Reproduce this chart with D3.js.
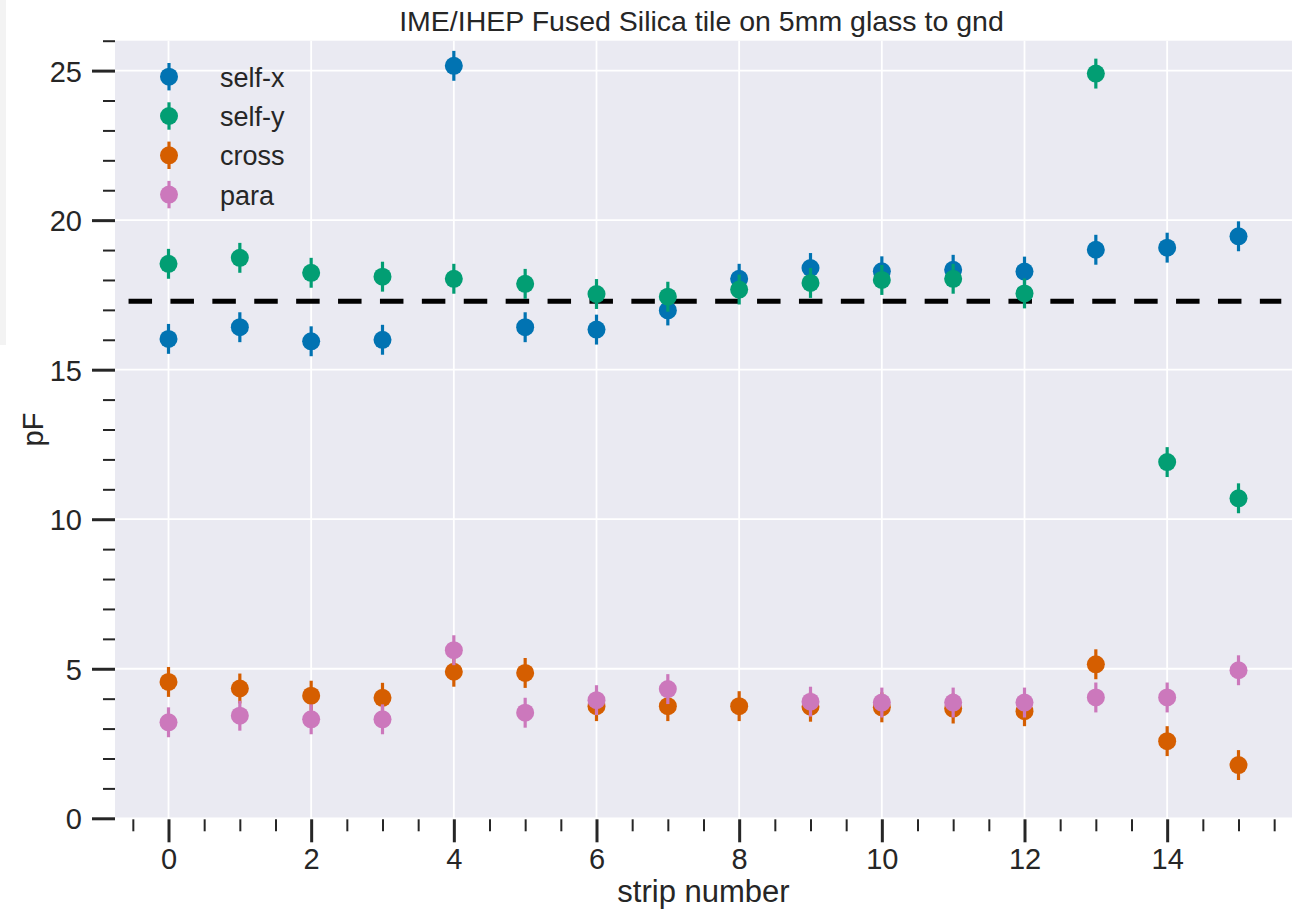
<!DOCTYPE html>
<html>
<head>
<meta charset="utf-8">
<script src="https://cdn.jsdelivr.net/npm/d3@7"></script>
<style>
  html, body { margin: 0; padding: 0; background: #ffffff; }
  svg { display: block; font-family: "Liberation Sans", Arial, Helvetica, sans-serif; }
</style>
</head>
<body>
<svg id="chart" width="1299" height="910"></svg>
<script>
// Capacitance per strip (pF), one array per measurement
const strips = [0, 1, 2, 3, 4, 5, 6, 7, 8, 9, 10, 11, 12, 13, 14, 15];
const selfX = [16.03, 16.42, 15.95, 16.00, 25.16, 16.42, 16.34, 16.98, 18.04, 18.40, 18.29, 18.34, 18.28, 19.01, 19.08, 19.46];
const selfY = [18.54, 18.74, 18.24, 18.11, 18.04, 17.87, 17.53, 17.44, 17.68, 17.90, 18.00, 18.04, 17.55, 24.90, 11.91, 10.70];
const cross = [4.56, 4.34, 4.10, 4.03, 4.90, 4.86, 3.75, 3.75, 3.75, 3.73, 3.71, 3.67, 3.58, 5.15, 2.58, 1.78];
const para  = [3.21, 3.43, 3.31, 3.31, 5.62, 3.53, 3.95, 4.32, null, 3.90, 3.87, 3.87, 3.87, 4.04, 4.04, 4.95];
const errorPF = 0.5;

const seriesNames = ["self-x", "self-y", "cross", "para"];
const seriesColors = ["#0173b2", "#029e73", "#d55e00", "#cc78bc"];

// Reference level drawn as a dashed horizontal line
const refLevel = 17.29;
const refSpan = [-0.56, 15.6];

const xMajorTicks = [0, 2, 4, 6, 8, 10, 12, 14];
const yMajorTicks = [0, 5, 10, 15, 20, 25];

const titleText = "IME/IHEP Fused Silica tile on 5mm glass to gnd";
const xLabel = "strip number";
const yLabel = "pF";

const svg = d3.select("#chart");
const plot = { left: 115, right: 1292, top: 40.7, bottom: 818.3 };

const x = d3.scaleLinear().domain([-0.75, 15.75]).range([plot.left, plot.right]);
const y = d3.scaleLinear().domain([0, 26]).range([plot.bottom, plot.top]);

// faint strip along the left page edge
svg.append("rect").attr("x", 0).attr("y", 0).attr("width", 6).attr("height", 345)
  .attr("fill", "#f3f3f3");

// axes background
svg.append("rect")
  .attr("x", plot.left).attr("y", plot.top)
  .attr("width", plot.right - plot.left).attr("height", plot.bottom - plot.top)
  .attr("fill", "#eaeaf2");

// grid
const grid = svg.append("g").attr("stroke", "#ffffff").attr("stroke-width", 1.8);
grid.selectAll("line.gx").data(xMajorTicks).join("line")
  .attr("x1", d => x(d)).attr("x2", d => x(d))
  .attr("y1", plot.top).attr("y2", plot.bottom);
grid.selectAll("line.gy").data(yMajorTicks).join("line")
  .attr("x1", plot.left).attr("x2", plot.right)
  .attr("y1", d => y(d)).attr("y2", d => y(d));

// x axis: majors every 2, minors every 0.5
const xMinor = d3.range(-0.5, 15.51, 0.5).filter(v => !xMajorTicks.includes(v));
const xMajorAxis = d3.axisBottom(x).tickValues(xMajorTicks).tickSize(23).tickPadding(7).tickFormat(d3.format("d"));
const xMinorAxis = d3.axisBottom(x).tickValues(xMinor).tickSize(12).tickFormat("");
const gxMinor = svg.append("g").attr("transform", `translate(0,${plot.bottom + 1})`).call(xMinorAxis);
const gxMajor = svg.append("g").attr("transform", `translate(0,${plot.bottom + 1})`).call(xMajorAxis);

// y axis: majors every 5, minors every 1
const yMinor = d3.range(0, 26.01, 1).filter(v => !yMajorTicks.includes(v));
const yMajorAxis = d3.axisLeft(y).tickValues(yMajorTicks).tickSize(23).tickPadding(10).tickFormat(d3.format("d"));
const yMinorAxis = d3.axisLeft(y).tickValues(yMinor).tickSize(12).tickFormat("");
const gyMinor = svg.append("g").attr("transform", `translate(${plot.left},0)`).call(yMinorAxis);
const gyMajor = svg.append("g").attr("transform", `translate(${plot.left},0)`).call(yMajorAxis);

[gxMinor, gxMajor, gyMinor, gyMajor].forEach(g => {
  g.select(".domain").remove();
  g.selectAll("text").attr("fill", "#262626").attr("font-size", 29)
    .attr("font-family", "'Liberation Sans', Arial, sans-serif");
});
gxMajor.selectAll("text").attr("dy", "0.68em");
gxMajor.selectAll(".tick line").attr("stroke", "#262626").attr("stroke-width", 3);
gxMinor.selectAll(".tick line").attr("stroke", "#262626").attr("stroke-width", 2);
gyMajor.selectAll(".tick line").attr("stroke", "#262626").attr("stroke-width", 3);
gyMinor.selectAll(".tick line").attr("stroke", "#262626").attr("stroke-width", 2);
gyMajor.selectAll("text").attr("dy", "0.36em");

// dashed reference line
svg.append("line")
  .attr("x1", x(refSpan[0])).attr("x2", x(refSpan[1]))
  .attr("y1", y(refLevel)).attr("y2", y(refLevel))
  .attr("stroke", "#000000").attr("stroke-width", 5)
  .attr("stroke-dasharray", "23.5,18.4");

// error-bar series
const series = [selfX, selfY, cross, para];
const markerR = 9;
series.forEach((vals, i) => {
  const pts = strips.map((s, j) => ({ s, v: vals[j] })).filter(d => d.v !== null);
  const g = svg.append("g").attr("fill", seriesColors[i]).attr("stroke", seriesColors[i]);
  g.selectAll("line").data(pts).join("line")
    .attr("x1", d => x(d.s)).attr("x2", d => x(d.s))
    .attr("y1", d => y(d.v - errorPF)).attr("y2", d => y(d.v + errorPF))
    .attr("stroke-width", 3.2);
  g.selectAll("circle").data(pts).join("circle")
    .attr("cx", d => x(d.s)).attr("cy", d => y(d.v))
    .attr("r", markerR).attr("stroke", "none");
});

// legend
const legend = svg.append("g");
seriesNames.forEach((name, i) => {
  const cy = 76.7 + i * 39.3;
  const cx = 169;
  legend.append("line").attr("x1", cx).attr("x2", cx)
    .attr("y1", cy - 13.7).attr("y2", cy + 13.7)
    .attr("stroke", seriesColors[i]).attr("stroke-width", 3.2);
  legend.append("circle").attr("cx", cx).attr("cy", cy).attr("r", markerR)
    .attr("fill", seriesColors[i]);
  legend.append("text").attr("x", 220).attr("y", cy + 10)
    .attr("font-size", 27).attr("fill", "#262626").text(name);
});

// title and axis labels
svg.append("text").attr("x", (plot.left + plot.right) / 2 - 2).attr("y", 30.5)
  .attr("text-anchor", "middle").attr("font-size", 28.5).attr("fill", "#262626")
  .text(titleText);
svg.append("text").attr("x", (plot.left + plot.right) / 2).attr("y", 902)
  .attr("text-anchor", "middle").attr("font-size", 31).attr("fill", "#262626")
  .text(xLabel);
svg.append("text")
  .attr("transform", `translate(43,${(plot.top + plot.bottom) / 2}) rotate(-90)`)
  .attr("text-anchor", "middle").attr("font-size", 29).attr("fill", "#262626")
  .text(yLabel);
</script>
</body>
</html>
